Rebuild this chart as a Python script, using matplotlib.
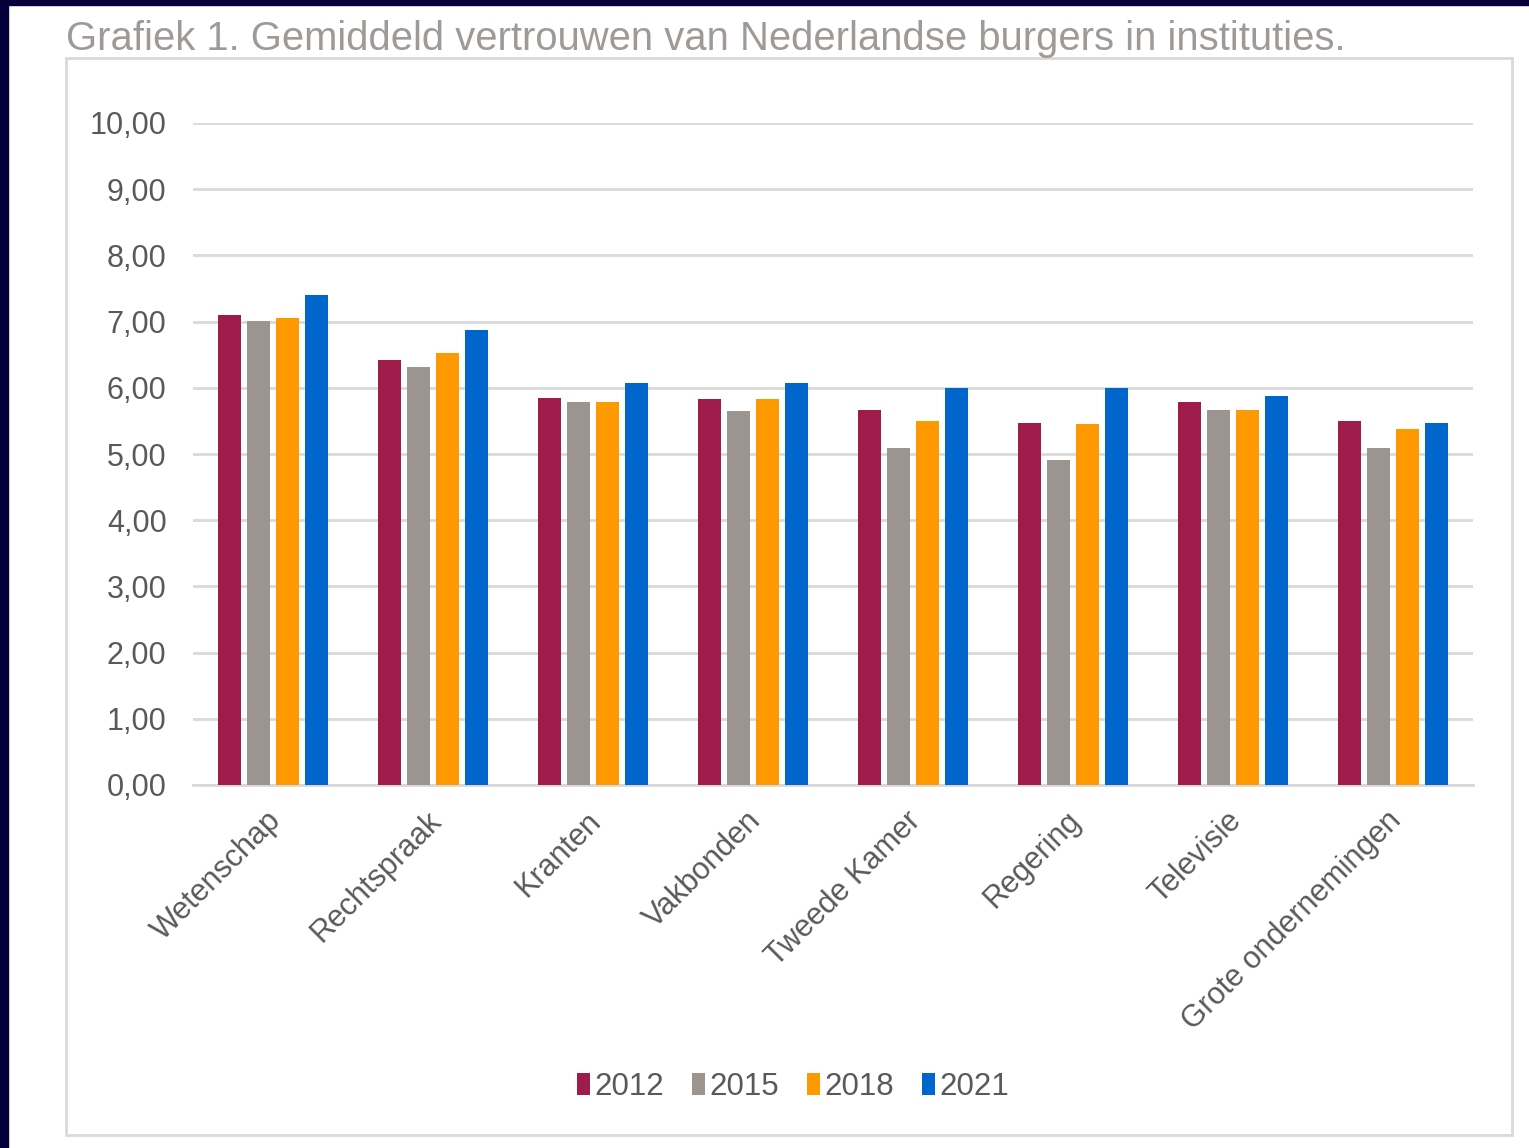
import numpy as np
import matplotlib.pyplot as plt
import matplotlib.transforms as mtransforms
from matplotlib.patches import Rectangle

# --------------------------------------------------
# Data
# --------------------------------------------------

categories = ["Wetenschap", "Rechtspraak", "Kranten", "Vakbonden",
              "Tweede Kamer", "Regering", "Televisie", "Grote ondernemingen"]
years = ["2012", "2015", "2018", "2021"]

v2012 = [7.10, 6.42, 5.85, 5.83, 5.66, 5.47, 5.79, 5.50]
v2015 = [7.01, 6.31, 5.79, 5.65, 5.09, 4.91, 5.66, 5.09]
v2018 = [7.05, 6.53, 5.79, 5.83, 5.50, 5.45, 5.66, 5.38]
v2021 = [7.40, 6.87, 6.07, 6.07, 6.00, 6.00, 5.88, 5.47]

series = [v2012, v2015, v2018, v2021]
colors = ["#9E1C4A", "#9C948E", "#FF9900", "#0066CC"]

yticks = np.arange(0, 11, 1)

# --------------------------------------------------
# Figure
# --------------------------------------------------

plt.rcParams["font.family"] = ["Liberation Sans", "DejaVu Sans"]

W, H = 1529, 1148
fig = plt.figure(figsize=(W / 100, H / 100), dpi=100)
fig.patch.set_facecolor("white")

# dark frame strips (left and top)
fig.add_artist(Rectangle((0, 0), 8 / W, 1, transform=fig.transFigure,
                         color="#05003A", zorder=5))
fig.add_artist(Rectangle((0, 1 - 5 / H), 1, 5 / H, transform=fig.transFigure,
                         color="#05003A", zorder=5))

# chart box
fig.add_artist(Rectangle((66 / W, 1 - 1135 / H), (1512 - 66) / W, (1135 - 58) / H,
                         transform=fig.transFigure, fill=False,
                         edgecolor="#D9D9D9", linewidth=2, zorder=1))

fig.text(66 / W, 1 - 39 / H, "Grafiek 1. Gemiddeld vertrouwen van Nederlandse burgers in instituties.",
         fontsize=28.8, color="#A09A96", ha="left", va="center")

left, right, top, bottom = 193, 1473, 123, 785
ax = fig.add_axes([left / W, 1 - bottom / H, (right - left) / W, (bottom - top) / H])

x = np.arange(len(categories))
step = 0.18
width = 0.145
for i, (vals, col, yr) in enumerate(zip(series, colors, years)):
    ax.bar(x + (i - 1.5) * step, vals, width=width, color=col, label=yr, zorder=3)

ax.set_xlim(-0.5, len(categories) - 0.5)
ax.set_ylim(0, 10)
ax.set_yticks(yticks)
ax.set_yticklabels([f"{t:.2f}".replace(".", ",") for t in yticks])
ax.set_xticks(x)
ax.set_xticklabels(categories, rotation=45, ha="right", rotation_mode="anchor")

ax.tick_params(axis="both", length=0, labelsize=22, colors="#595959")
ax.tick_params(axis="y", pad=19)
ax.tick_params(axis="x", pad=15)

# nudge category labels a bit to the left
offset = mtransforms.ScaledTranslation(-7 / 100, 0, fig.dpi_scale_trans)
for lbl in ax.get_xticklabels():
    lbl.set_transform(lbl.get_transform() + offset)

ax.grid(axis="y", color="#D9D9D9", linewidth=2, zorder=0)
for s in ["top", "right", "left"]:
    ax.spines[s].set_visible(False)
ax.spines["bottom"].set_color("#D9D9D9")
ax.spines["bottom"].set_linewidth(2)

leg = fig.legend(loc="center", bbox_to_anchor=(793 / W, 1 - 1087 / H), ncol=4,
                 frameon=False, fontsize=22.5, handlelength=0.4, handleheight=0.7,
                 handletextpad=0.15, columnspacing=0.9)
for t in leg.get_texts():
    t.set_color("#595959")

fig.savefig("out.png", dpi=100)
